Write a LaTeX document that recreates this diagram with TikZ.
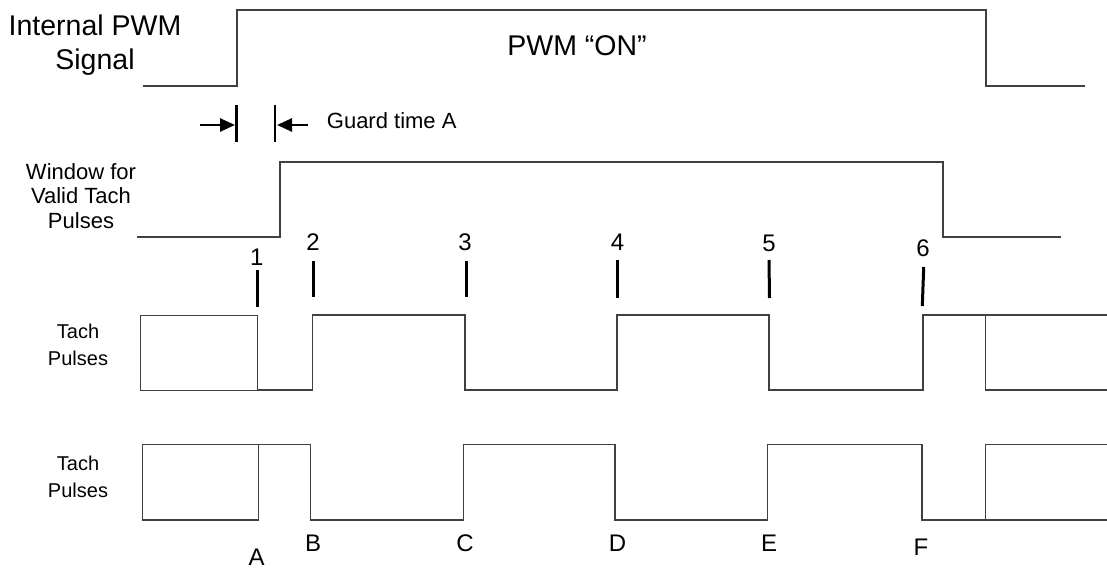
\documentclass[tikz,border=0pt]{standalone}
\usepackage{fontspec}
\setmainfont{Liberation Sans}
\usetikzlibrary{arrows.meta}
\tikzset{
  sig/.style={black!75,line width=1.2pt,line join=miter},
  tick/.style={black,line width=3pt},
  bigtxt/.style={font=\fontsize{28.5}{34}\selectfont,inner sep=0pt},
  smalltxt/.style={font=\fontsize{22}{24.5}\selectfont,inner sep=0pt,align=center},
  marktxt/.style={font=\fontsize{24}{28}\selectfont,inner sep=0pt,anchor=base},
  guardarr/.style={line width=2.6pt,-{Triangle[length=15pt,width=13pt]}}
}
\begin{document}
\begin{tikzpicture}[x=1pt,y=-1pt]
  \useasboundingbox (0,0) rectangle (1107,568);
  % internal PWM signal
  \node [bigtxt,align=center,anchor=north] (pwmlbl) at (95,15) {Internal PWM\\Signal};
  \draw [sig] (143,86) -- (237,86) -- (237,10) -- (986,10) -- (986,86) -- (1085,86);
  \node [bigtxt,anchor=base] (pwmon) at (577,55) {PWM “ON”};
  % guard time
  \draw [tick,line width=2.5pt] (236.7,105) -- (236.7,142);
  \draw [tick,line width=2.5pt] (275,105) -- (275,142);
  \draw [guardarr] (200,125) -- (235,125);
  \draw [guardarr] (308,125) -- (277,125);
  \node [smalltxt,anchor=base west] (guard) at (326.7,128) {Guard time A};
  % window for valid tach pulses
  \node [smalltxt,anchor=north] (winlbl) at (81,163) {Window for\\Valid Tach\\Pulses};
  \draw [sig] (137,237) -- (280,237) -- (280,162) -- (943,162) -- (943,237) -- (1061,237);
  % sample points 1..6
  \node [marktxt] (n1) at (256.7,265) {1};
  \node [marktxt] (n2) at (313,250) {2};
  \node [marktxt] (n3) at (465,250) {3};
  \node [marktxt] (n4) at (617.5,250.7) {4};
  \node [marktxt] (n5) at (769,251.7) {5};
  \node [marktxt] (n6) at (923,256.7) {6};
  \draw [tick] (257,270) -- (257,307);
  \draw [tick] (313,261) -- (313,297);
  \draw [tick] (466,261) -- (466,297);
  \draw [tick] (617.5,260) -- (617.5,298);
  \draw [tick] (769,260) -- (769.5,298);
  \draw [tick] (923.7,267) -- (922.3,306);
  % tach pulses, first row
  \node [smalltxt,font=\fontsize{20}{27}\selectfont,anchor=north] (tach1) at (78,324) {Tach\\Pulses};
  \draw [sig] (140.7,315.5) rectangle (257.7,390.5);
  \draw [sig] (257.7,390) -- (312.3,390) -- (312.3,315) -- (465,315) -- (465,390) -- (617,390)
    -- (617,315) -- (769,315) -- (769,390) -- (923,390) -- (923,315) -- (985.5,315);
  \draw [sig] (1112,315) -- (985.5,315) -- (985.5,390) -- (1112,390);
  % tach pulses, second row
  \node [smalltxt,font=\fontsize{20}{27}\selectfont,anchor=north] (tach2) at (78,456) {Tach\\Pulses};
  \draw [sig] (142.7,444.3) rectangle (258.3,520);
  \draw [sig] (258.3,444.3) -- (310.7,444.3) -- (310.7,520) -- (463.3,520) -- (463.3,444.3) -- (615,444.3)
    -- (615,520) -- (767.4,520) -- (767.4,444.3) -- (922,444.3) -- (922,520) -- (985.2,520);
  \draw [sig] (1112,444.3) -- (985.2,444.3) -- (985.2,520) -- (1112,520);
  % edge letters
  \node [marktxt] (la) at (256.7,565) {A};
  \node [marktxt] (lb) at (313,551.7) {B};
  \node [marktxt] (lc) at (465,551.7) {C};
  \node [marktxt] (ld) at (617.5,551.7) {D};
  \node [marktxt] (le) at (769,551.7) {E};
  \node [marktxt] (lf) at (921,555) {F};
\end{tikzpicture}
\end{document}
